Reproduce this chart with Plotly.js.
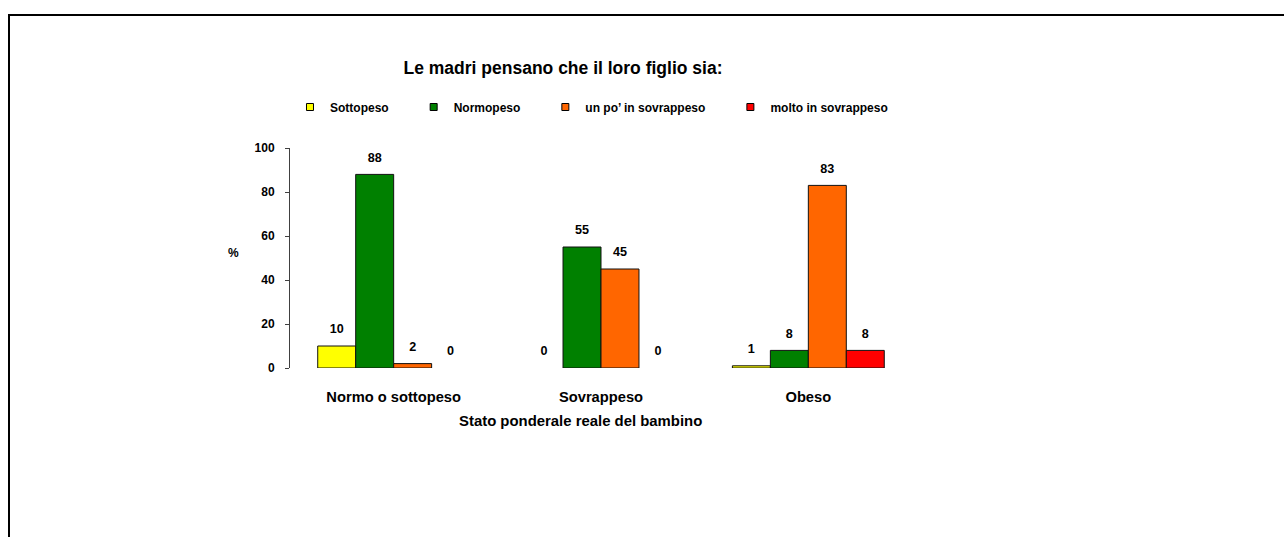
<!DOCTYPE html>
<html><head><meta charset="utf-8">
<script src="https://cdn.plot.ly/plotly-3.0.1.min.js"></script>
<style>
html,body{margin:0;padding:0;background:#fff}
#chart{width:1284px;height:537px}
#frame{position:absolute;left:8px;top:14px;width:1276px;height:523px;border-top:2px solid #000;border-left:2px solid #000;pointer-events:none;box-sizing:border-box}
</style>
</head><body>
<div id="chart"></div><div id="frame"></div>
<script>
// ---- data ----
const categories = ['Normo o sottopeso', 'Sovrappeso', 'Obeso'];
const seriesNames = ['Sottopeso', 'Normopeso', 'un po\u2019 in sovrappeso', 'molto in sovrappeso'];
const sottopeso = [10, 0, 1];
const normopeso = [88, 55, 8];
const unPoSovrappeso = [2, 45, 83];
const moltoSovrappeso = [0, 0, 8];
const yTicks = [0, 20, 40, 60, 80, 100];
const titleText = 'Le madri pensano che il loro figlio sia:';
const xTitleText = 'Stato ponderale reale del bambino';
const yTitleText = '%';

// ---- style ----
const FONT = '"Liberation Sans", Arial, sans-serif';
const colors = ['#FFFF00', '#008000', '#FF6600', '#FF0000'];
const seriesValues = [sottopeso, normopeso, unPoSovrappeso, moltoSovrappeso];
const pad = '\u00a0\u00a0\u00a0\u00a0\u00a0\u00a0';
const GAP = 0.2675;
const AXIS_COLOR = '#404040';

const traces = [];
// bars (zero-height bars are not drawn, as in the original)
seriesValues.forEach((vals, i) => {
  traces.push({
    type: 'bar', x: categories, y: vals.map(v => (v === 0 ? null : v)), name: seriesNames[i],
    marker: {color: colors[i], line: {color: '#111', width: 1}},
    showlegend: false, hoverinfo: 'x+y+name'
  });
});
// value labels, grouped like the bars
seriesValues.forEach((vals, i) => {
  traces.push({
    type: 'scatter', mode: 'markers+text', x: categories, y: vals, name: seriesNames[i],
    text: vals.map(String), textposition: 'top center', cliponaxis: false,
    marker: {size: 13.5, color: 'rgba(0,0,0,0)', line: {width: 0}},
    textfont: {family: FONT, size: 12.6, weight: 700, color: '#000'},
    showlegend: false, hoverinfo: 'skip'
  });
});
// legend entries (hidden overlay axes)
seriesValues.forEach((vals, i) => {
  traces.push({
    type: 'scatter', mode: 'markers', x: [null], y: [null], xaxis: 'x2', yaxis: 'y2',
    name: seriesNames[i] + pad,
    marker: {symbol: 'square', size: 7, color: colors[i], line: {color: '#000', width: 1}},
    showlegend: true, hoverinfo: 'skip'
  });
});

const layout = {
  width: 1284, height: 537,
  margin: {l: 290, r: 372, t: 148, b: 169, autoexpand: false},
  paper_bgcolor: '#fff', plot_bgcolor: '#fff',
  font: {family: FONT, color: '#000'},
  barmode: 'group', bargap: GAP, bargroupgap: 0,
  scattermode: 'group', scattergap: GAP,
  title: {text: titleText, font: {family: FONT, size: 17.5, weight: 700, color: '#000'},
          x: 563 / 1284, xanchor: 'center', xref: 'container',
          y: 1 - 68 / 537, yanchor: 'middle', yref: 'container'},
  xaxis: {type: 'category', showline: false, ticks: '', showgrid: false, zeroline: false,
          ticklabelstandoff: 18,
          tickfont: {family: FONT, size: 14.7, weight: 700, color: '#000'}},
  yaxis: {range: [0, 100], tickvals: yTicks, ticktext: yTicks.map(String),
          ticks: 'outside', ticklen: 4, tickcolor: AXIS_COLOR, tickwidth: 1,
          showline: true, linecolor: AXIS_COLOR, linewidth: 1,
          showgrid: false, zeroline: false, ticklabelstandoff: 8,
          tickfont: {family: FONT, size: 12, weight: 700, color: '#000'}},
  xaxis2: {overlaying: 'x', visible: false, range: [0, 1]},
  yaxis2: {overlaying: 'y', visible: false, range: [0, 1]},
  legend: {orientation: 'h', x: -0.00001, xanchor: 'left',
           y: (368 - 107) / 220, yanchor: 'middle',
           font: {family: FONT, size: 12, weight: 700, color: '#000'},
           bgcolor: 'rgba(0,0,0,0)', borderwidth: 0},
  annotations: [
    {text: yTitleText, xref: 'paper', yref: 'paper', x: (233 - 290) / 622.5, y: 0.523,
     xanchor: 'center', yanchor: 'middle', showarrow: false,
     font: {family: FONT, size: 12, weight: 700, color: '#000'}},
    {text: xTitleText, xref: 'paper', yref: 'paper', x: 0.4675, y: -0.241,
     xanchor: 'center', yanchor: 'middle', showarrow: false,
     font: {family: FONT, size: 14.9, weight: 700, color: '#000'}}
  ]
};

Plotly.newPlot('chart', traces, layout, {displayModeBar: false, staticPlot: true});
</script>
</body></html>
